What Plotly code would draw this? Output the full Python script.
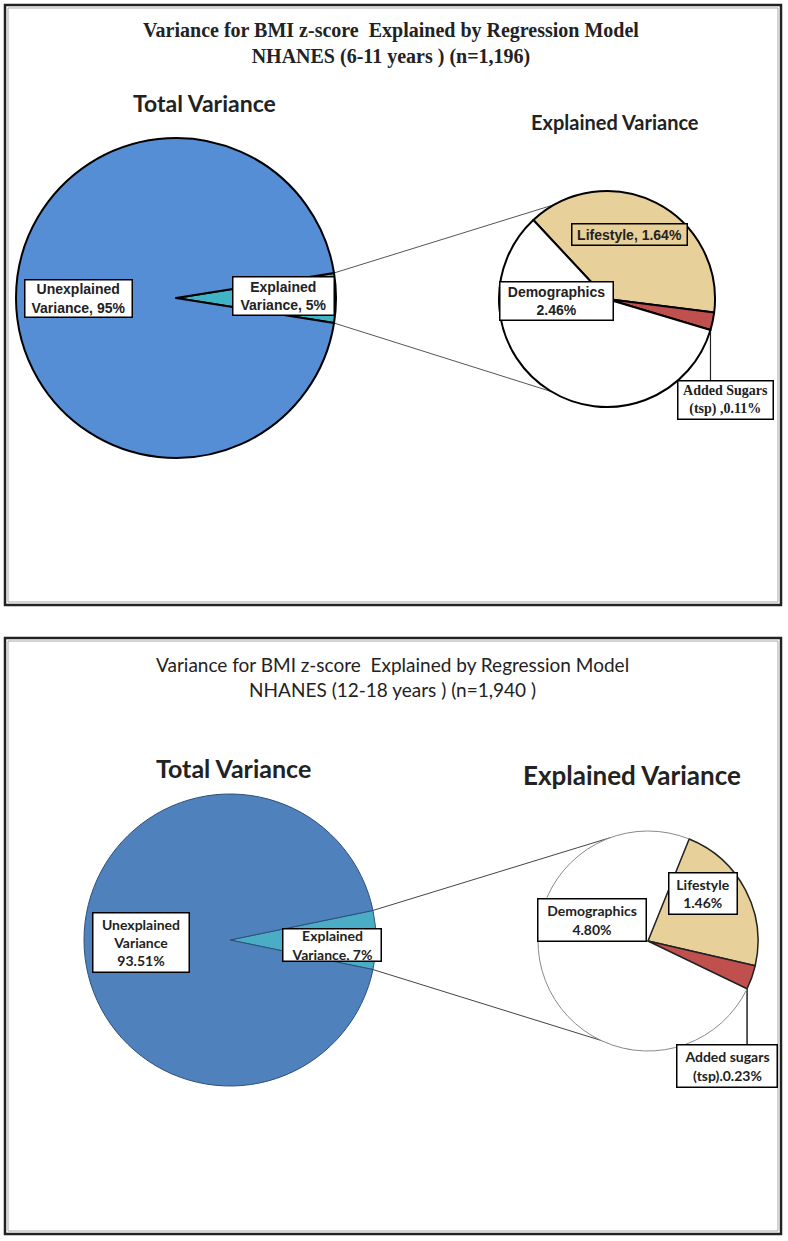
import math
import plotly.graph_objects as go

W, H = 788, 1241

# ---------------- data ----------------
total_labels = ["Explained Variance", "Unexplained Variance"]
total_p1 = [5, 95]
total_p2 = [6.49, 93.51]

exp_labels_p1 = ["Lifestyle", "Added Sugars (tsp)", "Demographics"]
exp_values_p1 = [1.64, 0.11, 2.46]

exp_labels_p2 = ["Demographics", "Lifestyle", "Added sugars (tsp)"]
exp_values_p2 = [4.80, 1.46, 0.23]

titles_p1 = ["Variance for BMI z-score  Explained by Regression Model", "NHANES (6-11 years ) (n=1,196)"]
titles_p2 = ["Variance for BMI z-score  Explained by Regression Model", "NHANES (12-18 years ) (n=1,940 )"]

# ---------------- helpers ----------------
def px(x):
    return x / W

def py(y):
    return 1 - y / H

def dom(cx, cy, r):
    return dict(x=[px(cx - r), px(cx + r)], y=[py(cy + r), py(cy - r)])

def pt(cx, cy, r, ang):
    a = math.radians(ang)
    return cx + r * math.cos(a), cy - r * math.sin(a)

fig = go.Figure()
shapes = []
annos = []

def box(text, cx, cy, w, h, family, size, bg="white", bw=1.5, color="#222"):
    annos.append(dict(
        x=px(cx), y=py(cy), xref="paper", yref="paper", text=text, showarrow=False,
        xanchor="center", yanchor="middle", align="center",
        width=w, height=h, bgcolor=bg, bordercolor="black", borderwidth=bw, borderpad=0,
        font=dict(family=family, size=size, color=color)))

def txt(text, cx, cy, family, size, color="#222"):
    annos.append(dict(
        x=px(cx), y=py(cy), xref="paper", yref="paper", text=text, showarrow=False,
        xanchor="center", yanchor="middle", align="center",
        font=dict(family=family, size=size, color=color)))

def line(x0, y0, x1, y1, color="#555", width=1):
    shapes.append(dict(type="line", xref="paper", yref="paper", layer="below",
                       x0=px(x0), y0=py(y0), x1=px(x1), y1=py(y1),
                       line=dict(color=color, width=width)))

def frame(x0, y0, x1, y1):
    shapes.append(dict(type="rect", xref="paper", yref="paper", layer="below",
                       x0=px(x0), y0=py(y0), x1=px(x1), y1=py(y1),
                       line=dict(color="#222", width=2.5)))
    shapes.append(dict(type="rect", xref="paper", yref="paper", layer="below",
                       x0=px(x0 + 3), y0=py(y0 + 3), x1=px(x1 - 3), y1=py(y1 - 3),
                       line=dict(color="#aaa", width=1)))

# ---------------- panel 1 ----------------
frame(5, 5, 781, 605)
c1 = (176, 298); r1 = 160
e1 = (607, 299); re1 = 108

exp_frac1 = total_p1[0] / sum(total_p1)
half1 = 360 * exp_frac1 / 2
fig.add_trace(go.Pie(
    labels=total_labels, values=total_p1, sort=False, direction="clockwise",
    rotation=90 - half1, textinfo="none", hoverinfo="label+percent",
    marker=dict(colors=["#40B4C6", "#558ED5"], line=dict(color="black", width=2)),
    domain=dom(c1[0], c1[1], r1), showlegend=False))

start1 = 133  # math angle where Lifestyle begins
fig.add_trace(go.Pie(
    labels=exp_labels_p1, values=exp_values_p1, sort=False, direction="clockwise",
    rotation=90 - start1, textinfo="none", hoverinfo="label+value",
    marker=dict(colors=["#E8D09A", "#C0504D", "#FFFFFF"], line=dict(color="black", width=2)),
    domain=dom(e1[0], e1[1], re1), showlegend=False))

# connectors
a, b = pt(*c1, r1, half1), pt(*e1, re1, 119)
line(a[0], a[1], b[0], b[1])
a, b = pt(*c1, r1, -half1), pt(*e1, re1, -121)
line(a[0], a[1], b[0], b[1])
# leader for added sugars
sug_end1 = start1 - 360 * (exp_values_p1[0] + exp_values_p1[1]) / sum(exp_values_p1)
s = pt(*e1, re1, sug_end1)
line(s[0], s[1], s[0], 381, color="#222", width=1.2)

txt("<b>" + titles_p1[0] + "<br>" + titles_p1[1] + "</b>", 391, 43, "Liberation Serif", 20)
txt("<b>Total Variance</b>", 204, 103, "Lato", 23)
txt("<b>Explained Variance</b>", 615, 122, "Lato", 20)

box("<b>Unexplained<br>Variance, 95%</b>", 78, 299, 106, 36, "Liberation Sans", 14)
box("<b>Explained<br>Variance, 5%</b>", 283, 296, 100, 37, "Liberation Sans", 14)
box("<b>Lifestyle, 1.64%</b>", 629, 235, 114, 20, "Liberation Sans", 14, bg="#E8D09A")
box("<b>Demographics<br>2.46%</b>", 556, 301, 112, 37, "Liberation Sans", 14)
box("<b>Added Sugars<br>(tsp) ,0.11%</b>", 725, 400, 94, 37, "Liberation Serif", 14)

# ---------------- panel 2 ----------------
frame(5, 638, 781, 1234)
c2 = (230, 940); r2 = 146
e2 = (648, 941); re2 = 110

exp_frac2 = total_p2[0] / sum(total_p2)
half2 = 360 * exp_frac2 / 2
fig.add_trace(go.Pie(
    labels=total_labels, values=total_p2, sort=False, direction="clockwise",
    rotation=90 - half2, textinfo="none", hoverinfo="label+percent",
    marker=dict(colors=["#4BACC6", "#4F81BD"], line=dict(color="#2E4F78", width=1)),
    domain=dom(c2[0], c2[1], r2), showlegend=False))

life_start2 = 68  # math angle where Lifestyle begins
demo_deg2 = 360 * exp_values_p2[0] / sum(exp_values_p2)
fig.add_trace(go.Pie(
    labels=exp_labels_p2, values=exp_values_p2, sort=False, direction="clockwise",
    rotation=(90 - life_start2 - demo_deg2) % 360, textinfo="none", hoverinfo="label+value",
    marker=dict(colors=["#FFFFFF", "#E8D09A", "#C0504D"],
                line=dict(color=["#8a8a8a", "#222", "#222"], width=[1, 1.5, 1.5])),
    domain=dom(e2[0], e2[1], re2), showlegend=False))

a, b = pt(*c2, r2, half2), pt(*e2, re2, 110)
line(a[0], a[1], b[0], b[1], color="#444")
a, b = pt(*c2, r2, -half2), pt(*e2, re2, -99)
line(a[0], a[1], b[0], b[1], color="#444")
sug_end2 = life_start2 - 360 * (exp_values_p2[1] + exp_values_p2[2]) / sum(exp_values_p2)
s = pt(*e2, re2, sug_end2)
line(s[0], s[1], s[0], 1045, color="#222", width=1.5)

txt(titles_p2[0] + "<br>" + titles_p2[1], 392, 677, "Lato", 19)
txt("<b>Total Variance</b>", 233, 768, "Lato", 25)
txt("<b>Explained Variance</b>", 632, 775, "Lato", 26)

box("<b>Unexplained<br>Variance<br>93.51%</b>", 141, 942, 95, 58, "Lato", 14)
box("<b>Explained<br>Variance, 7%</b>", 332, 945, 97, 31, "Lato", 14)
box("<b>Lifestyle<br>1.46%</b>", 703, 893, 67, 40, "Lato", 14)
box("<b>Demographics<br>4.80%</b>", 592, 920, 107, 41, "Lato", 14)
box("<b>Added sugars<br>(tsp).0.23%</b>", 727, 1066, 99, 41, "Lato", 14)

fig.update_layout(
    width=W, height=H, margin=dict(l=0, r=0, t=0, b=0),
    paper_bgcolor="white", plot_bgcolor="white",
    shapes=shapes, annotations=annos)

fig.write_html("out.html", config={"displayModeBar": False},
               post_script="document.body.style.margin='0';document.body.style.overflow='hidden';")
